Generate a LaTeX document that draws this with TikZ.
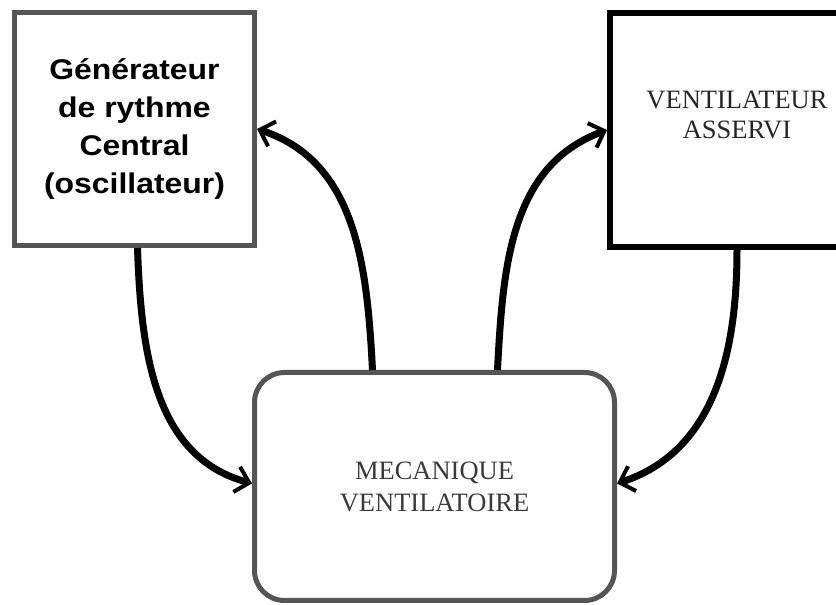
\documentclass[tikz,border=0pt]{standalone}
\usepackage{fontspec}
\newfontfamily\arialfont[FakeStretch=1.12]{Liberation Sans}
\newfontfamily\timesfont{Liberation Serif}
\usetikzlibrary{arrows.meta, positioning}
\definecolor{boxgray}{HTML}{555555}
\definecolor{textgray}{HTML}{3A3A3A}

\begin{document}
\begin{tikzpicture}[x=1pt, y=1pt,
    bloc/.style={draw, rectangle, inner sep=0pt},
    fleche/.style={line width=7pt, -{Straight Barb[length=13pt, width=26pt, line width=4pt]}}]
            \useasboundingbox (0,0) rectangle (836,605);
            \clip (0,0) rectangle (836,605);
            \fill[white] (0,0) rectangle (836,605);
            % boxes
            \node[bloc, draw=boxgray, line width=5pt, minimum width=240pt, minimum height=233pt,
                  align=center, font=\arialfont\bfseries\fontsize{28.5}{38}\selectfont]
                  (gen) at (134.5,476) {Générateur\\de rythme\\Central\\(oscillateur)};
            \node[bloc, draw=black, line width=6pt, minimum width=260pt, minimum height=234pt]
                  (vent) at (740,475) {};
            \node[align=center, text=black!85, font=\timesfont\fontsize{26.5}{30}\selectfont]
                  (ventlabel) at (737,490) {VENTILATEUR\\ASSERVI};
            \node[bloc, draw=boxgray, line width=5pt, rounded corners=30pt, minimum width=360pt, minimum height=228pt,
                  align=center, text=textgray, font=\timesfont\fontsize{26.5}{32}\selectfont]
                  (meca) at (434.5,118.5) {MECANIQUE\\VENTILATOIRE};
            % arrows
            \draw[fleche] ([xshift=3pt]gen.south) to[out=-88, in=165] ([yshift=3pt]meca.west);
            \draw[fleche] ([xshift=-62pt]meca.north) to[out=93, in=-18] (gen.east);
            \draw[fleche] ([xshift=63pt]meca.north) to[out=87, in=200] (vent.west);
            \draw[fleche] ([xshift=-3pt]vent.south) to[out=-90, in=18] ([yshift=3pt]meca.east);
        \end{tikzpicture}
\end{document}
